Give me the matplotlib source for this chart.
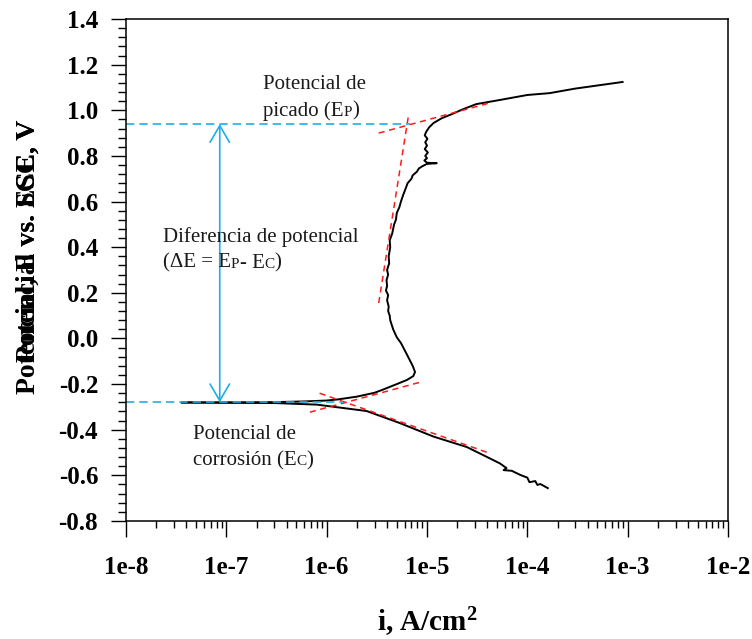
import numpy as np
import matplotlib
matplotlib.use("Agg")
import matplotlib.pyplot as plt
from matplotlib.ticker import MultipleLocator, LogLocator, FuncFormatter, NullFormatter
from matplotlib.offsetbox import TextArea, HPacker, VPacker, AnnotationBbox

plt.rcParams['font.family'] = ['Liberation Serif', 'DejaVu Serif']
plt.rcParams['axes.unicode_minus'] = False
plt.rcParams['mathtext.fontset'] = 'custom'
plt.rcParams['mathtext.bf'] = 'Liberation Serif:bold'
plt.rcParams['mathtext.rm'] = 'Liberation Serif'

# anodic branch (current density A/cm2, potential V)
anodic_i = [3.6e-8, 1e-7, 3e-7, 6e-7, 1.0e-6, 1.3e-6, 2.0e-6, 3.0e-6, 3.6e-6, 5.0e-6,
            6.3e-6, 7.3e-6, 7.6e-6, 7.2e-6, 6.3e-6, 5.5e-6, 5.0e-6, 4.6e-6, 4.3e-6, 4.25e-6,
            4.1e-6, 4.15e-6, 4.0e-6, 4.1e-6, 3.9e-6, 4.0e-6, 3.95e-6, 4.1e-6, 4.0e-6, 4.2e-6,
            4.15e-6, 4.3e-6, 4.25e-6, 4.5e-6, 4.7e-6, 4.9e-6, 5.0e-6, 5.3e-6, 5.5e-6, 5.8e-6,
            6.2e-6, 6.4e-6, 7.0e-6, 7.2e-6, 7.9e-6, 8.3e-6, 9.0e-6, 1.0e-5, 1.25e-5, 1.0e-5,
            9.4e-6, 1.0e-5, 9.6e-6, 1.02e-5, 9.5e-6, 1.0e-5, 9.6e-6, 1.01e-5, 9.5e-6, 9.8e-6,
            1.05e-5, 1.16e-5, 1.4e-5, 1.7e-5, 2.3e-5, 3.1e-5, 5.3e-5, 1.0e-4, 1.66e-4, 3.0e-4,
            8.9e-4]
anodic_E = [-0.280, -0.280, -0.279, -0.276, -0.272, -0.267, -0.255, -0.238, -0.225, -0.200,
            -0.182, -0.165, -0.147, -0.120, -0.070, -0.020, 0.005, 0.040, 0.080, 0.100,
            0.120, 0.140, 0.167, 0.190, 0.210, 0.230, 0.255, 0.280, 0.300, 0.330,
            0.360, 0.400, 0.430, 0.460, 0.500, 0.520, 0.550, 0.575, 0.600, 0.630,
            0.663, 0.680, 0.700, 0.715, 0.730, 0.745, 0.755, 0.765, 0.768, 0.770,
            0.780, 0.790, 0.800, 0.815, 0.830, 0.845, 0.860, 0.875, 0.890, 0.905,
            0.925, 0.944, 0.965, 0.980, 1.005, 1.027, 1.045, 1.067, 1.075, 1.095,
            1.124]

# cathodic branch
cathodic_i = [3.6e-8, 3e-7, 8e-7, 1.2e-6, 2.5e-6, 5.3e-6, 1.16e-5, 2.5e-5, 5.3e-5, 6.2e-5,
              5.8e-5, 7.0e-5, 8.5e-5, 1.0e-4, 1.05e-4, 1.2e-4, 1.26e-4, 1.35e-4, 1.6e-4]
cathodic_E = [-0.281, -0.283, -0.290, -0.300, -0.318, -0.370, -0.430, -0.476, -0.547, -0.568,
              -0.577, -0.580, -0.598, -0.610, -0.630, -0.625, -0.642, -0.638, -0.656]

# tangent lines (red dashed)
tafel_a_i = [6.8e-7, 8.5e-6]
tafel_a_E = [-0.323, -0.192]
tafel_c_i = [8.5e-7, 4.2e-5]
tafel_c_E = [-0.240, -0.503]
passive_i = [3.3e-6, 6.6e-6]
passive_E = [0.155, 0.988]
pit_i = [3.3e-6, 4.2e-5]
pit_E = [0.900, 1.032]

E_pit = 0.94
E_corr = -0.28
pit_line_end = 6.8e-6
corr_line_end = 1.45e-6
arrow_i = 8.6e-8

cyan = '#1eaee8'
red = '#ff1a1a'

fig = plt.figure(figsize=(7.52, 6.39), dpi=100)
ax = fig.add_axes([126 / 752, 118 / 639, 602 / 752, 502 / 639])

ax.plot(anodic_i, anodic_E, color='black', lw=1.4)
ax.plot(cathodic_i, cathodic_E, color='black', lw=1.4)

for xs, ys in [(tafel_a_i, tafel_a_E), (tafel_c_i, tafel_c_E), (passive_i, passive_E), (pit_i, pit_E)]:
    ax.plot(xs, ys, color=red, lw=1.1, linestyle=(0, (4, 3)))

ax.plot([1e-8, pit_line_end], [E_pit, E_pit], color=cyan, lw=1.2, linestyle=(0, (5, 3)))
ax.plot([1e-8, corr_line_end], [E_corr, E_corr], color=cyan, lw=1.2, linestyle=(0, (5, 3)))
ax.annotate('', xy=(arrow_i, E_pit), xytext=(arrow_i, E_corr),
            arrowprops=dict(arrowstyle='<->,head_length=0.6,head_width=0.35', color=cyan,
                            lw=1.2, shrinkA=0, shrinkB=0, mutation_scale=20))

ax.set_xscale('log')
ax.set_xlim(1e-8, 1e-2)
ax.set_ylim(-0.8, 1.4)

ax.xaxis.set_major_locator(LogLocator(base=10, numticks=10))
ax.xaxis.set_minor_locator(LogLocator(base=10, subs=np.arange(2, 10), numticks=100))
ax.xaxis.set_major_formatter(FuncFormatter(lambda v, p: '1e%d' % round(np.log10(v))))
ax.xaxis.set_minor_formatter(NullFormatter())
ax.yaxis.set_major_locator(MultipleLocator(0.2))
ax.yaxis.set_minor_locator(MultipleLocator(0.04))
ax.yaxis.set_major_formatter(FuncFormatter(lambda v, p: '%.1f' % (0.0 if abs(v) < 1e-9 else v)))

ax.tick_params(axis='both', which='both', direction='out', top=False, right=False, width=1)
ax.tick_params(axis='y', which='major', length=11, pad=9)
ax.tick_params(axis='y', which='minor', length=5.5)
ax.tick_params(axis='x', which='major', length=11.5, pad=14)
ax.tick_params(axis='x', which='minor', length=5)
for lab in ax.get_xticklabels() + ax.get_yticklabels():
    lab.set_fontsize(18)
    lab.set_fontweight('bold')
for s in ax.spines.values():
    s.set_linewidth(1.1)

ax.set_xlabel('i, A/cm$\\mathbf{^2}$', fontsize=21, fontweight='bold', labelpad=19)

# overlapping y labels as in the original
fig.text(28 / 752, 1 - 120 / 639, 'Potencial, E vs. SCE, V', rotation=90, ha='center', va='top',
         fontsize=20, fontweight='bold')
fig.text(28 / 752, 1 - 120 / 639, 'Potencial vs. ESC, V', rotation=90, ha='center', va='top',
         fontsize=20, fontweight='bold')


def label_box(lines, pos):
    rows = []
    for line in lines:
        parts = []
        for txt, small in line:
            parts.append(TextArea(txt, textprops=dict(fontsize=11 if small else 15, color='#1a1a1a')))
        rows.append(HPacker(children=parts, align='baseline', pad=0, sep=0))
    box = VPacker(children=rows, align='left', pad=0, sep=5)
    ab = AnnotationBbox(box, pos, xycoords='axes fraction', box_alignment=(0, 1),
                        frameon=False, pad=0)
    ax.add_artist(ab)


label_box([[('Potencial de', False)],
           [('picado (E', False), ('P', True), (')', False)]], (0.2276, 0.888))
label_box([[('Diferencia de potencial', False)],
           [('(ΔE = E', False), ('P', True), ('- E', False), ('C', True), (')', False)]],
          (0.0615, 0.586))
label_box([[('Potencial de', False)],
           [('corrosión (E', False), ('C', True), (')', False)]], (0.111, 0.191))

fig.savefig('out.png', dpi=100)
